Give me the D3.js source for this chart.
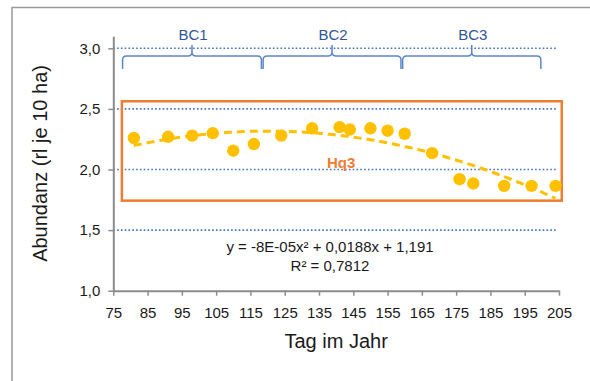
<!DOCTYPE html>
<html>
<head>
<meta charset="utf-8">
<script src="https://cdn.jsdelivr.net/npm/d3@7"></script>
<style>
  body { margin: 0; background: #fff; }
  svg { display: block; font-family: "Liberation Sans", Arial, sans-serif; }
</style>
</head>
<body>
<svg id="chart" width="590" height="381"></svg>
<script>
// Survey days (day of year) and abundance (territories per 10 ha)
const days = [81, 91, 98, 104, 110, 116, 124, 133, 141, 144, 150, 155, 160, 168, 176, 180, 189, 197, 204];
const abundance = [2.26, 2.27, 2.28, 2.30, 2.155, 2.21, 2.28, 2.34, 2.35, 2.33, 2.34, 2.32, 2.295, 2.135, 1.92, 1.885, 1.865, 1.865, 1.865];

const xTicks = [75, 85, 95, 105, 115, 125, 135, 145, 155, 165, 175, 185, 195, 205];
const yTicks = [1.0, 1.5, 2.0, 2.5, 3.0];

// Breeding-code periods shown as braces above the plot
const phases = ["BC1", "BC2", "BC3"];
const phaseStart = [77.7, 118.7, 159.4];
const phaseEnd = [118.2, 158.9, 199.7];

// Habitat quality class band
const habitatLabel = "Hq3";
const habitatDays = [77.5, 205.8];
const habitatRange = [1.743, 2.563];

const equationLines = ["y = -8E-05x\u00B2 + 0,0188x + 1,191", "R\u00B2 = 0,7812"];

const svg = d3.select("#chart");
const W = 590, H = 381;

const x = d3.scaleLinear().domain([75, 205]).range([113.3, 559]);
const y = d3.scaleLinear().domain([1, 3.1]).range([290.7, 36.2]);

const axisGrey = "#8c8c8c";
const gridBlue = "#4472c4";
const yellow = "#ffc000";
const orange = "#ed7d31";
const braceBlue = "#5b87c7";
const textDark = "#1a1a1a";

// Outer frame
svg.append("path")
  .attr("d", `M12,${H} L12,7.5 L${W},7.5`)
  .attr("fill", "none")
  .attr("stroke", "#9a9a9a")
  .attr("stroke-width", 1.5);

// Horizontal dotted gridlines
svg.append("g")
  .selectAll("line")
  .data(yTicks.filter(d => d > 1))
  .join("line")
  .attr("x1", x(75)).attr("x2", x.range()[1] - 2)
  .attr("y1", d => y(d)).attr("y2", d => y(d))
  .attr("stroke", gridBlue)
  .attr("stroke-width", 1.6)
  .attr("stroke-dasharray", "1.6,2.2");

const fmtComma = d => d3.format(".1f")(d).replace(".", ",");

// Axes
const gx = svg.append("g")
  .attr("transform", `translate(0,${y(1)})`)
  .call(d3.axisBottom(x).tickValues(xTicks).tickSize(5).tickSizeOuter(0).tickPadding(8).tickFormat(d3.format("d")));
const gy = svg.append("g")
  .attr("transform", `translate(${x(75)},0)`)
  .call(d3.axisLeft(y).tickValues(yTicks).tickSize(5).tickSizeOuter(0).tickPadding(8).tickFormat(fmtComma));

[gx, gy].forEach(g => {
  g.select(".domain").attr("stroke", axisGrey).attr("stroke-width", 2);
  g.selectAll(".tick line").attr("stroke", axisGrey).attr("stroke-width", 1.5);
  g.selectAll(".tick text").attr("fill", textDark).style("font-size", "15px")
    .style("font-family", '"Liberation Sans", Arial, sans-serif');
});
gx.selectAll(".tick text").attr("dy", "0.95em");

// Axis titles
svg.append("text")
  .attr("x", x(140)).attr("y", 348)
  .attr("text-anchor", "middle")
  .attr("fill", textDark)
  .style("font-size", "20px")
  .text("Tag im Jahr");

svg.append("text")
  .attr("transform", `translate(47,${(y(1) + y(3.1)) / 2}) rotate(-90)`)
  .attr("text-anchor", "middle")
  .attr("fill", textDark)
  .style("font-size", "20px")
  .text("Abundanz (rl je 10 ha)");

// Habitat band
svg.append("rect")
  .attr("x", x(habitatDays[0]))
  .attr("y", y(habitatRange[1]))
  .attr("width", x(habitatDays[1]) - x(habitatDays[0]))
  .attr("height", y(habitatRange[0]) - y(habitatRange[1]))
  .attr("fill", "none")
  .attr("stroke", orange)
  .attr("stroke-width", 2.5);

svg.append("text")
  .attr("x", 327).attr("y", 168)
  .attr("fill", orange)
  .style("font-size", "15px")
  .style("font-weight", "bold")
  .text(habitatLabel);

// Braces for the breeding-code periods
const braceTop = 56, braceFoot = 69, braceTip = 45, r = 4;
phases.forEach((name, i) => {
  const x0 = x(phaseStart[i]), x1 = x(phaseEnd[i]), xm = (x0 + x1) / 2;
  const p = d3.path();
  p.moveTo(x0, braceFoot);
  p.lineTo(x0, braceTop + r);
  p.quadraticCurveTo(x0, braceTop, x0 + r, braceTop);
  p.lineTo(xm - r, braceTop);
  p.quadraticCurveTo(xm, braceTop, xm, braceTop - r);
  p.lineTo(xm, braceTip);
  p.moveTo(xm, braceTop - r);
  p.quadraticCurveTo(xm, braceTop, xm + r, braceTop);
  p.lineTo(x1 - r, braceTop);
  p.quadraticCurveTo(x1, braceTop, x1, braceTop + r);
  p.lineTo(x1, braceFoot);
  svg.append("path")
    .attr("d", p.toString())
    .attr("fill", "none")
    .attr("stroke", braceBlue)
    .attr("stroke-width", 1.5);
  svg.append("text")
    .attr("x", xm + 1).attr("y", 40)
    .attr("text-anchor", "middle")
    .attr("fill", "#2f5597")
    .style("font-size", "15px")
    .text(name);
});

// Quadratic least-squares trend through the observations
function quadFit(xs, ys) {
  const mx = d3.mean(xs);
  const s = [0, 0, 0, 0, 0], t = [0, 0, 0];
  xs.forEach((xv, i) => {
    const u = xv - mx;
    for (let k = 0; k <= 4; k++) s[k] += Math.pow(u, k);
    for (let k = 0; k <= 2; k++) t[k] += ys[i] * Math.pow(u, k);
  });
  const A = [[s[0], s[1], s[2]], [s[1], s[2], s[3]], [s[2], s[3], s[4]]];
  const b = t.slice();
  // Gaussian elimination
  for (let c = 0; c < 3; c++) {
    for (let rr = c + 1; rr < 3; rr++) {
      const f = A[rr][c] / A[c][c];
      for (let k = c; k < 3; k++) A[rr][k] -= f * A[c][k];
      b[rr] -= f * b[c];
    }
  }
  const coef = [0, 0, 0];
  for (let rr = 2; rr >= 0; rr--) {
    let acc = b[rr];
    for (let k = rr + 1; k < 3; k++) acc -= A[rr][k] * coef[k];
    coef[rr] = acc / A[rr][rr];
  }
  return xv => { const u = xv - mx; return coef[0] + coef[1] * u + coef[2] * u * u; };
}
const trend = quadFit(days, abundance);
const trendX = d3.range(d3.min(days), d3.max(days) + 0.01, 1);

svg.append("path")
  .datum(trendX)
  .attr("d", d3.line().x(d => x(d)).y(d => y(trend(d))))
  .attr("fill", "none")
  .attr("stroke", yellow)
  .attr("stroke-width", 3)
  .attr("stroke-dasharray", "8,5");

// Observations
svg.append("g")
  .selectAll("circle")
  .data(days)
  .join("circle")
  .attr("cx", d => x(d))
  .attr("cy", (d, i) => y(abundance[i]))
  .attr("r", 6.2)
  .attr("fill", yellow);

// Regression equation
svg.append("g")
  .selectAll("text")
  .data(equationLines)
  .join("text")
  .attr("x", 330).attr("y", (d, i) => 252 + i * 19)
  .attr("text-anchor", "middle")
  .attr("fill", textDark)
  .style("font-size", "15px")
  .text(d => d);
</script>
</body>
</html>
